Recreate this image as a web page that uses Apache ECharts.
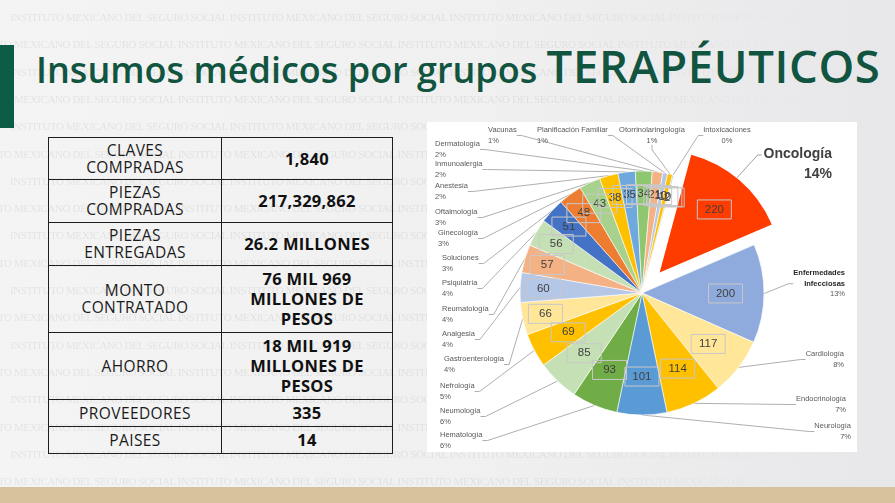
<!DOCTYPE html>
<html><head><meta charset="utf-8">
<script src="https://cdn.jsdelivr.net/npm/echarts@6/dist/echarts.min.js"></script>
<style>
html,body{margin:0;padding:0;width:895px;height:503px;overflow:hidden;}
body{position:relative;background:linear-gradient(90deg,#f4f4f4 0%,#f0f0f1 55%,#e7e7e9 100%);font-family:'Open Sans',sans-serif;}
#wm{position:absolute;left:0;top:0;width:895px;height:487px;overflow:hidden;-webkit-mask-image:linear-gradient(90deg,#000 0%,#000 60%,transparent 90%);mask-image:linear-gradient(90deg,#000 0%,#000 60%,transparent 90%);}
.wmrow{position:absolute;white-space:nowrap;font-family:'Liberation Serif',serif;font-size:11px;color:rgba(0,0,0,0.07);letter-spacing:-0.4px;}
#bar{position:absolute;left:0;top:45px;width:14px;height:83px;background:#0d5c45;}
#title{position:absolute;left:36px;top:35px;height:60px;white-space:nowrap;color:#115440;font-weight:600;line-height:60px;font-size:36px;}
#title .a{font-size:36px;}
#title .b{font-size:45.5px;letter-spacing:0.6px;}
#band{position:absolute;left:0;top:487px;width:895px;height:16px;background:#d6c19d;}
#tbl{position:absolute;left:48px;top:137px;width:345px;border-collapse:collapse;table-layout:fixed;}
#tbl td{border:1px solid #1e1e1e;text-align:center;vertical-align:middle;padding:0;color:#1a1a1a;}
#tbl td.l{width:172px;font-size:15.5px;line-height:17px;font-weight:400;letter-spacing:0.4px;}
#tbl td.v{font-size:16.5px;line-height:20px;font-weight:700;color:#111;letter-spacing:0.3px;}
#box{position:absolute;left:427px;top:122px;width:430px;height:330px;background:#fff;}
#chart{position:absolute;left:0;top:0;width:895px;height:503px;}
#leader{position:absolute;left:0;top:0;width:895px;height:503px;pointer-events:none;}
</style>
</head>
<body>
<div id="wm"></div>
<div id="bar"></div>
<div id="title"><span class="a">Insumos médicos por grupos </span><span class="b">TERAPÉUTICOS</span></div>
<table id="tbl"></table>
<div id="box"></div>
<div id="band"></div>
<div id="chart"></div>
<svg id="leader" width="895" height="503" xmlns="http://www.w3.org/2000/svg"><polyline id="leaderLine" fill="none" stroke="#a0a0a0" stroke-width="1" points=""/></svg>
<script>
// ---- data ----
const tableLabels = ['CLAVES\nCOMPRADAS', 'PIEZAS\nCOMPRADAS', 'PIEZAS\nENTREGADAS', 'MONTO\nCONTRATADO', 'AHORRO', 'PROVEEDORES', 'PAISES'];
const tableValues = ['1,840', '217,329,862', '26.2 MILLONES', '76 MIL 969\nMILLONES DE\nPESOS', '18 MIL 919\nMILLONES DE\nPESOS', '335', '14'];
const categories = ['Oncología', 'Enfermedades Infecciosas', 'Cardiología', 'Endocrinología', 'Neurología', 'Hematología', 'Neumología', 'Nefrología', 'Gastroenterología', 'Analgesia', 'Reumatología', 'Psiquiatría', 'Soluciones', 'Ginecología', 'Oftalmología', 'Anestesia', 'Inmunoalergia', 'Dermatología', 'Vacunas', 'Planificación Familiar', 'Otorrinolaringología', 'Intoxicaciones'];
const values = [220, 200, 117, 114, 101, 93, 85, 69, 66, 60, 57, 56, 51, 48, 43, 38, 35, 34, 21, 10, 10, 2];
const watermarkText = 'INSTITUTO MEXICANO DEL SEGURO SOCIAL';

// ---- styles / layout ----
const sliceColors = ['#ff3c00', '#8faadc', '#ffe699', '#ffc000', '#5b9bd5', '#70ad47', '#c5e0b4', '#ffc000', '#ffe699', '#b4c7e7', '#f4b183', '#c5e0b4', '#4472c4', '#ed7d31', '#a9d18e', '#ffc000', '#6fa8dc', '#8fc771', '#f4b183', '#b4c7e7', '#ffc000', '#a5a5a5'];
const rowHeights = [42, 43, 43, 67, 67, 27, 27];
const nameLabelLayout = [
  [832, 144, 'right'], [845, 268, 'right'], [844, 349, 'right'], [846, 394, 'right'], [851, 421, 'right'],
  [440, 430, 'left'], [440, 406, 'left'], [440, 381, 'left'], [444, 354, 'left'], [442, 329, 'left'],
  [442, 304, 'left'], [442, 278, 'left'], [442, 253, 'left'], [438, 228, 'left'], [435, 207, 'left'],
  [435, 181, 'left'], [435, 159, 'left'], [435, 139, 'left'], [488, 125, 'left'], [537, 125, 'left'],
  [652, 125, 'center'], [727, 125, 'center']
];
const INNER_LABEL_SPLIT = 8;   // value labels of the first slices sit closer to the centre

// watermark
const wm = document.getElementById('wm');
for (let i = 0; i < 18; i++) {
  const d = document.createElement('div');
  d.className = 'wmrow';
  d.style.top = (11 + i * 27.3) + 'px';
  d.style.left = (i % 2 === 0 ? 10 : -42) + 'px';
  d.textContent = (watermarkText + '    ').repeat(4);
  wm.appendChild(d);
}

// table
const tbl = document.getElementById('tbl');
tableLabels.forEach((t, i) => {
  const tr = document.createElement('tr');
  tr.style.height = rowHeights[i] + 'px';
  const a = document.createElement('td'); a.className = 'l'; a.innerHTML = t.split('\n').join('<br>');
  const b = document.createElement('td'); b.className = 'v'; b.innerHTML = tableValues[i].split('\n').join('<br>');
  tr.appendChild(a); tr.appendChild(b); tbl.appendChild(tr);
});

// chart
const chart = echarts.init(document.getElementById('chart'), null, {renderer: 'canvas'});
const CENTER = [642, 293];
const R = 122;
const START = 75;
const OFFSET = 27;
const total = values.reduce((s, v) => s + v, 0);
const midRad = (START - values[0] / total * 180) * Math.PI / 180;
const CENTER_EXPLODED = [CENTER[0] + OFFSET * Math.cos(midRad), CENTER[1] - OFFSET * Math.sin(midRad)];
const clear = 'rgba(0,0,0,0)';

const BIG_FONT = 'bold 14px "Liberation Sans"';
const richStyles = {
  n: {fontSize: 7.5, lineHeight: 10.5, color: '#595959', fontFamily: 'Liberation Sans'},
  bold: {fontSize: 7.5, lineHeight: 10.5, color: '#262626', fontWeight: 'bold', fontFamily: 'Liberation Sans'},
  big: {fontSize: 14, lineHeight: 20, color: '#404040', fontWeight: 'bold', fontFamily: 'Liberation Sans'}
};
const nameFormatter = p => {
  const pct = Math.round(p.value / total * 100) + '%';
  if (p.dataIndex === 0) return '{big|' + p.name + '}\n{big|' + pct + '}';
  if (p.dataIndex === 1) return p.name.split(' ').map(s => '{bold|' + s + '}').join('\n') + '\n{n|' + pct + '}';
  return '{n|' + p.name + '}\n{n|' + pct + '}';
};
const lineStyle = {color: '#a6a6a6', width: 0.9};
const placeLabel = p => {
  const L = nameLabelLayout[p.dataIndex];
  return {x: L[0], y: L[1], align: L[2], verticalAlign: 'top'};
};

// leader line of the exploded slice's label (geometry from the pie's centre/radius)
const ctx = document.createElement('canvas').getContext('2d');
ctx.font = BIG_FONT;
const bigW = ctx.measureText(categories[0]).width || 68;
const lx = nameLabelLayout[0][0] - bigW - 2, ly = nameLabelLayout[0][1] + 11;
const ldx = lx - 6 - CENTER_EXPLODED[0], ldy = ly - CENTER_EXPLODED[1];
const ld = Math.sqrt(ldx * ldx + ldy * ldy);
const leaderPoints = [[CENTER_EXPLODED[0] + ldx / ld * R, CENTER_EXPLODED[1] + ldy / ld * R], [lx - 4, ly], [lx, ly]];
document.getElementById('leaderLine').setAttribute('points', leaderPoints.map(p => p[0].toFixed(1) + ',' + p[1].toFixed(1)).join(' '));

const valueLabel = {
  show: true, position: 'inside', formatter: '{c}',
  fontSize: 11.5, color: '#404040', fontFamily: 'Liberation Sans',
  borderColor: '#c8c8c8', borderWidth: 1, width: 34, height: 19, lineHeight: 19, align: 'center'
};
const valueSeries = (radiusFactor, showFn) => ({
  type: 'pie', center: CENTER, radius: [0, R * radiusFactor], startAngle: START, clockwise: true,
  selectedMode: 'single', selectedOffset: OFFSET, avoidLabelOverlap: false,
  silent: true, emphasis: {disabled: true}, z: 5,
  data: values.map((v, i) => ({name: categories[i], value: v, selected: i === 0, itemStyle: {color: clear}, label: {show: showFn(i)}})),
  label: valueLabel,
  labelLine: {show: false},
  labelLayout: {hideOverlap: false}
});

chart.setOption({
  animation: false,
  series: [
    // exploded first slice (drawn only)
    {
      type: 'pie', center: CENTER_EXPLODED, radius: [0, R], startAngle: START, clockwise: true,
      silent: true, emphasis: {disabled: true}, z: 2,
      data: values.map((v, i) => ({
        name: categories[i], value: v,
        itemStyle: {color: i === 0 ? sliceColors[i] : clear, borderWidth: 0}
      })),
      label: {show: false}, labelLine: {show: false}
    },
    // remaining slices + all name labels
    {
      type: 'pie', center: CENTER, radius: [0, R], startAngle: START, clockwise: true,
      avoidLabelOverlap: false, silent: true, emphasis: {disabled: true}, z: 3,
      data: values.map((v, i) => ({
        name: categories[i], value: v,
        itemStyle: i === 0 ? {color: clear, borderWidth: 0} : {color: sliceColors[i], borderColor: '#ffffff', borderWidth: 0.6},
        labelLine: {show: i !== 0}
      })),
      label: {show: true, position: 'outside', formatter: nameFormatter, rich: richStyles},
      labelLine: {show: true, length: 8, length2: 5, smooth: false, lineStyle: lineStyle},
      labelLayout: placeLabel
    },
    // value labels
    valueSeries(1.32, i => i < INNER_LABEL_SPLIT),
    valueSeries(1.57, i => i >= INNER_LABEL_SPLIT)
  ]
});
</script>
</body></html>
